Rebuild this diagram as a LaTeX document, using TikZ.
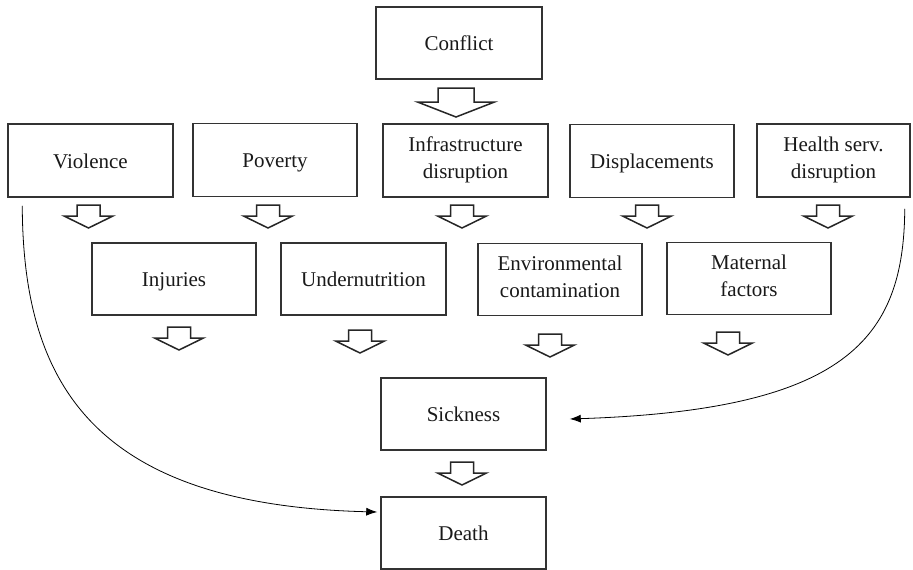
\documentclass[tikz,border=0pt]{standalone}
\usepackage{fontspec}
\setmainfont{Liberation Serif}
\usetikzlibrary{arrows.meta}
\newcommand{\boxstrut}{\rule[-5pt]{0pt}{25pt}}
\begin{document}
\begin{tikzpicture}[x=1pt,y=-1pt,
  box/.style={draw=black!80,line width=1.5pt,minimum height=72pt,inner sep=0pt,
    align=center,font=\fontsize{21}{27}\selectfont,text=black!90,
    execute at begin node=\boxstrut,execute at end node=\boxstrut},
  arr/.style={draw=black!85,line width=1.5pt,fill=white,line join=miter},
  conn/.style={draw=black,line width=0.8pt,-{Latex[length=11pt,width=8pt]}},
  sarrow/.pic={\path[arr] (-11.5,0) -- (11.5,0) -- (11.5,11) -- (24.5,11) -- (0,23) -- (-24.5,11) -- (-11.5,11) -- cycle;},
  barrow/.pic={\path[arr] (-18,0) -- (18,0) -- (18,14) -- (38.5,14) -- (0,29) -- (-38.5,14) -- (-18,14) -- cycle;}]
\useasboundingbox (0,0) rectangle (913,570);
% nodes
\node[box,minimum width=166pt] (conf) at (459,43) {Conflict};
\node[box,minimum width=165pt,minimum height=73pt] (vio) at (90.5,160.5) {Violence};
\node[box,minimum width=164pt,minimum height=73pt] (pov) at (275,160) {Poverty};
\node[box,minimum width=165pt,minimum height=73pt] (inf) at (465.5,160.5) {Infrastructure\\disruption};
\node[box,minimum width=164pt,minimum height=73pt] (dis) at (652,161) {Displacements};
\node[box,minimum width=153pt,minimum height=73pt] (hea) at (833.5,160.5) {Health serv.\\disruption};
\node[box,minimum width=164pt] (inj) at (174,279) {Injuries};
\node[box,minimum width=165pt] (und) at (363.5,279) {Undernutrition};
\node[box,minimum width=164pt] (env) at (560,279.5) {Environmental\\contamination};
\node[box,minimum width=164pt] (mat) at (749,278.5) {Maternal\\factors};
\node[box,minimum width=165pt] (sic) at (463.5,414) {Sickness};
\node[box,minimum width=165pt] (dea) at (463.5,533) {Death};
% block arrows
\pic at (456,88) {barrow};
\pic at (88.5,205) {sarrow};
\pic at (268,205) {sarrow};
\pic at (462,205) {sarrow};
\pic at (647,205) {sarrow};
\pic at (828,205) {sarrow};
\pic at (179,327) {sarrow};
\pic at (360,330) {sarrow};
\pic at (550,334) {sarrow};
\pic at (728,332) {sarrow};
\pic at (462,462) {sarrow};
% curved connectors
\draw[conn] ([shift={(15,8)}]vio.south west) .. controls (23,380) and (90,505) .. ([shift={(-3,-21)}]dea.west);
\draw[conn] ([shift={(-6,11)}]hea.south east) .. controls (904,340) and (845,410) .. ([shift={(23,5)}]sic.east);
\end{tikzpicture}
\end{document}
